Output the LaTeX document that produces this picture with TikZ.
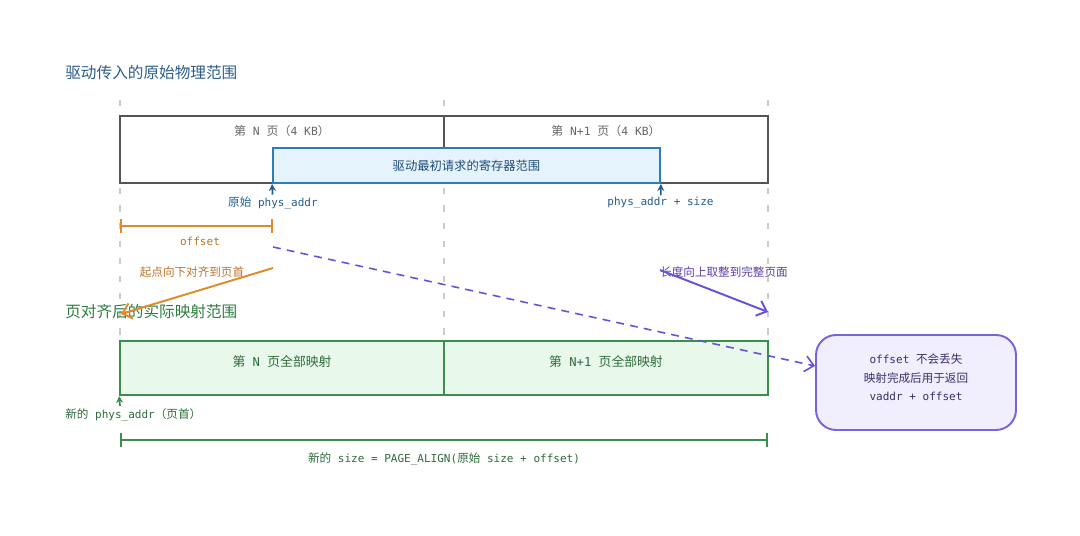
\documentclass[tikz,border=0pt]{standalone}
\usepackage{fontspec}
\setmainfont{Noto Sans CJK SC}
\setmonofont{DejaVu Sans Mono}[Scale=0.95]
\usetikzlibrary{arrows.meta,positioning}

\definecolor{titleblue}{HTML}{2B5C8A}
\definecolor{guidegray}{HTML}{CCCCCC}
\definecolor{pagegray}{HTML}{555555}
\definecolor{pagetextgray}{HTML}{666666}
\definecolor{reqfill}{HTML}{E5F3FD}
\definecolor{reqdraw}{HTML}{2E7CC0}
\definecolor{reqtext}{HTML}{1F4E79}
\definecolor{addrblue}{HTML}{255C91}
\definecolor{offorange}{HTML}{E08A2A}
\definecolor{offtext}{HTML}{B8742A}
\definecolor{roundpurple}{HTML}{6A4FD8}
\definecolor{roundtext}{HTML}{5B3FA8}
\definecolor{maptitle}{HTML}{2E7D3E}
\definecolor{mapfill}{HTML}{E8F8EB}
\definecolor{mapdraw}{HTML}{3C8E4C}
\definecolor{maptext}{HTML}{2F6B3B}
\definecolor{notefill}{HTML}{F1EEFD}
\definecolor{notedraw}{HTML}{7B61DB}
\definecolor{notetext}{HTML}{3B2F6B}

\begin{document}
\begin{tikzpicture}[x=0.02cm, y=-0.02cm,
	openarrow/.style={-{Straight Barb[length=5pt, width=9pt]}},
	uparrow/.style={line width=1pt, -{Stealth[length=4pt, width=4pt]}},
	span/.style={{Bar[width=8pt]}-{Bar[width=8pt]}},
	titletext/.style={anchor=west, inner sep=0pt, font=\fontsize{8.9}{10}\selectfont},
	labeltext/.style={inner sep=1pt, font=\fontsize{6.6}{8}\selectfont},
	guide/.style={draw=guidegray, line width=0.6pt, dash pattern=on 3.5pt off 6.5pt},
	pagebox/.style={draw=pagegray, fill=white, line width=0.85pt, minimum width=6.48cm, minimum height=1.34cm, inner sep=0pt},
	pagetext/.style={text=pagetextgray, inner sep=0pt, font=\fontsize{6.8}{8}\selectfont},
	reqbox/.style={draw=reqdraw, fill=reqfill, line width=1.1pt, minimum width=7.74cm, minimum height=0.7cm, text=reqtext, font=\fontsize{7}{8}\selectfont},
	mapbox/.style={draw=mapdraw, fill=mapfill, line width=1.1pt, minimum width=6.48cm, minimum height=1.08cm, inner sep=0pt},
	maptextstyle/.style={text=maptext, inner sep=0pt, font=\fontsize{7.3}{8}\selectfont},
	notebox/.style={draw=notedraw, fill=notefill, line width=1.1pt, rounded corners=0.4cm, minimum width=4cm, minimum height=1.9cm},
	notetextstyle/.style={align=center, text=notetext, inner sep=0pt, font=\fontsize{6.6}{10.5}\selectfont}]

	\useasboundingbox (0,0) rectangle (1080,536);

	% Guides
	\foreach \gx in {120,444,768}
		\draw [guide] (\gx,100) -- (\gx,340);

	% Original range
	\node [titletext, text=titleblue]	(title1)	at (65,73)		{驱动传入的原始物理范围};
	\node [pagebox]		(pN)		at (282,149.5)	{};
	\node [pagebox]		(pN1)		at (606,149.5)	{};
	\node [pagetext]	(pNt)		at (282,131)	{第\texttt{ N }页（\texttt{4 KB}）};
	\node [pagetext]	(pN1t)		at (606,131)	{第\texttt{ N+1 }页（\texttt{4 KB}）};
	\node [reqbox]		(req)		at (466.5,165.5) {驱动最初请求的寄存器范围};
	\node [labeltext, text=addrblue]	(addr0)		at (273,203)	{原始\texttt{ phys\_addr}};
	\node [labeltext, text=addrblue]	(addrEnd)	at (660.5,203)	{\texttt{phys\_addr + size}};

	% Offset and rounding notes
	\coordinate (off1) at (120,226);
	\coordinate (off2) at (273,226);
	\node [labeltext, text=offtext]		(offt)		at (200,241)	{\texttt{offset}};
	\node [labeltext, text=offtext]		(alignt)	at (192,272)	{起点向下对齐到页首};
	\node [labeltext, text=roundtext]	(roundt)	at (724,272)	{长度向上取整到完整页面};
	\coordinate (alS)	at (273,268);
	\coordinate (alE)	at (121,314);
	\coordinate (rdS)	at (660,270);
	\coordinate (rdE)	at (768,312);
	\coordinate (dshS)	at (273,247);

	% Mapped range
	\node [titletext, text=maptitle]	(title2)	at (65,312)		{页对齐后的实际映射范围};
	\node [mapbox]			(mN)	at (282,368)	{};
	\node [mapbox]			(mN1)	at (606,368)	{};
	\node [maptextstyle]	(mNt)	at (282,362)	{第\texttt{ N }页全部映射};
	\node [maptextstyle]	(mN1t)	at (606,362)	{第\texttt{ N+1 }页全部映射};
	\node [labeltext, text=maptext, anchor=west, inner sep=0pt] (newaddr) at (65,415) {新的\texttt{ phys\_addr}（页首）};
	\coordinate (nA)	at (120,406);
	\coordinate (sz1)	at (120,440);
	\coordinate (sz2)	at (768,440);
	\node [labeltext, text=maptext]	(newsize) at (444,459) {新的\texttt{ size = PAGE\_ALIGN(}原始\texttt{ size + offset)}};

	% Note
	\node [notebox]			(note)	at (916,382.5)	{};
	\node [notetextstyle]	(notet)	at (916,377.5)	{\texttt{offset }不会丢失\\映射完成后用于返回\\\texttt{vaddr + offset}};

	% Paths
	\draw [addrblue, uparrow]	(addr0)		-- (req.south west);
	\draw [addrblue, uparrow]	(addrEnd)	-- (req.south east);
	\draw [offorange, line width=1.1pt, span]	(off1)	-- (off2);
	\draw [roundpurple, line width=0.9pt, dash pattern=on 4.5pt off 3.5pt, openarrow]	(dshS)	-- ([yshift=0.33cm]note.west);
	\draw [offorange, line width=1.1pt, openarrow]		(alS)	-- (alE);
	\draw [roundpurple, line width=1.1pt, openarrow]	(rdS)	-- (rdE);
	\draw [mapdraw, uparrow]	(nA)	-- (mN.south west);
	\draw [mapdraw, line width=1pt, span]	(sz1)	-- (sz2);

\end{tikzpicture}
\end{document}
